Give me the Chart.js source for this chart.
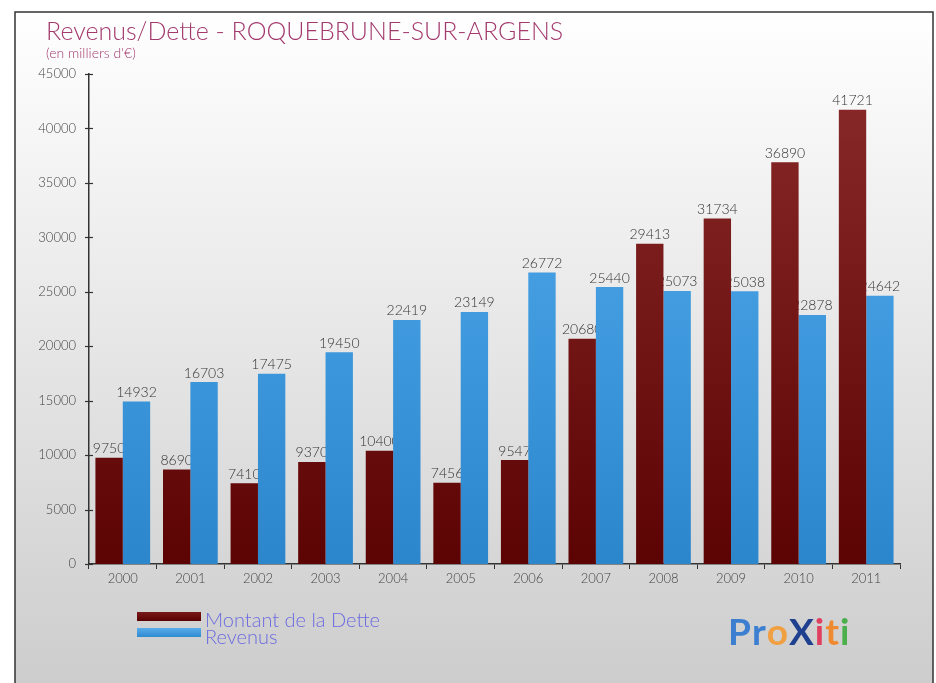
<!DOCTYPE html>
<html>
<head>
<meta charset="utf-8">
<script src="https://cdn.jsdelivr.net/npm/chart.js@4.4.1/dist/chart.umd.min.js"></script>
<style>
  html, body { margin: 0; padding: 0; background: #fff; }
  #wrap { width: 936px; height: 683px; position: relative; }
</style>
</head>
<body>
<div id="wrap"><canvas id="myBarChart" width="936" height="683"></canvas></div>
<script>
// donnees
const annees = ['2000', '2001', '2002', '2003', '2004', '2005', '2006', '2007', '2008', '2009', '2010', '2011'];
const dette = [9750, 8690, 7410, 9370, 10400, 7456, 9547, 20680, 29413, 31734, 36890, 41721];
const revenus = [14932, 16703, 17475, 19450, 22419, 23149, 26772, 25440, 25073, 25038, 22878, 24642];
const ticksY = [0, 5000, 10000, 15000, 20000, 25000, 30000, 35000, 40000, 45000];

const police = 'Lato, "Open Sans", sans-serif';

// fond, cadre, titre, legende et logo
const decor = {
    id: 'decor',
    beforeDraw(chart) {
        const ctx = chart.ctx;
        ctx.save();
        ctx.fillStyle = '#ffffff';
        ctx.fillRect(0, 0, chart.width, chart.height);
        const g = ctx.createLinearGradient(0, 12, 0, 683);
        g.addColorStop(0, '#ffffff');
        g.addColorStop(1, '#cdcdcd');
        ctx.fillStyle = g;
        ctx.fillRect(15, 12, 918, 680);
        ctx.strokeStyle = '#333';
        ctx.lineWidth = 1.5;
        ctx.strokeRect(15, 12, 918, 690);

        ctx.fillStyle = '#a33a6e';
        ctx.textBaseline = 'alphabetic';
        ctx.font = '300 25px ' + police;
        ctx.fillText('Revenus/Dette - ROQUEBRUNE-SUR-ARGENS', 46, 40);
        ctx.font = '300 14px ' + police;
        ctx.fillText("(en milliers d'€)", 46, 58);
        ctx.restore();
    },
    afterDraw(chart) {
        const ctx = chart.ctx;
        ctx.save();
        // y ticks qui traversent l'axe
        const y = chart.scales.y;
        ctx.strokeStyle = '#333';
        ctx.lineWidth = 1.2;
        ticksY.forEach(v => {
            const py = Math.round(y.getPixelForValue(v)) + 0.5;
            ctx.beginPath();
            ctx.moveTo(y.right - 4, py);
            ctx.lineTo(y.right + 4, py);
            ctx.stroke();
        });

        // legende
        const gr = ctx.createLinearGradient(0, 612, 0, 621);
        gr.addColorStop(0, '#7a1a1a');
        gr.addColorStop(1, '#5a0000');
        ctx.fillStyle = gr;
        ctx.fillRect(137, 612, 64, 9);
        const gb = ctx.createLinearGradient(0, 628, 0, 637);
        gb.addColorStop(0, '#59acea');
        gb.addColorStop(1, '#2f8ad0');
        ctx.fillStyle = gb;
        ctx.fillRect(137, 628, 64, 9);
        ctx.fillStyle = '#6b6be0';
        ctx.font = '300 20px ' + police;
        ctx.fillText('Montant de la Dette', 205, 627);
        ctx.fillText('Revenus', 205, 644);

        // logo
        const lettres = [['P', '#3c7fd0'], ['r', '#3c7fd0'], ['o', '#f0a040'], ['X', '#1f3f8f'], ['i', '#e04060'], ['t', '#f08a30'], ['i', '#4bb04b']];
        let x = 728;
        ctx.font = 'bold 37px ' + police;
        lettres.forEach(l => {
            ctx.fillStyle = l[1];
            ctx.fillText(l[0], x, 645);
            x += ctx.measureText(l[0]).width + 1;
        });
        ctx.restore();
    }
};

// etiquettes dessinees avant les barres: les barres voisines les recouvrent
const etiquettes = {
    id: 'etiquettes',
    beforeDatasetsDraw(chart) {
        const ctx = chart.ctx;
        ctx.save();
        ctx.font = '300 14px ' + police;
        ctx.fillStyle = '#333';
        ctx.textAlign = 'center';
        ctx.textBaseline = 'bottom';
        chart.data.datasets.forEach((ds, i) => {
            chart.getDatasetMeta(i).data.forEach((bar, j) => {
                ctx.fillText(String(ds.data[j]), bar.x, bar.y - 2);
            });
        });
        ctx.restore();
    }
};

function degrade(haut, bas) {
    return (c) => {
        const area = c.chart.chartArea;
        if (!area) return bas;
        const g = c.chart.ctx.createLinearGradient(0, area.top, 0, area.bottom);
        g.addColorStop(0, haut);
        g.addColorStop(1, bas);
        return g;
    };
}

const config = {
    type: 'bar',
    data: {
        labels: annees,
        datasets: [{
            label: 'Montant de la Dette',
            data: dette,
            backgroundColor: degrade('#8a2a2a', '#5c0303'),
            borderWidth: 0
        }, {
            label: 'Revenus',
            data: revenus,
            backgroundColor: degrade('#56aef0', '#2b86cc'),
            borderWidth: 0
        }]
    },
    options: {
        responsive: false,
        animation: false,
        events: [],
        layout: { padding: { left: 20, right: 36, top: 74, bottom: 89 } },
        plugins: { legend: { display: false }, tooltip: { enabled: false }, title: { display: false } },
        datasets: { bar: { categoryPercentage: 0.81, barPercentage: 1 } },
        scales: {
            x: {
                grid: { display: true, drawOnChartArea: false, tickLength: 5, color: '#333' },
                border: { color: '#333', width: 1.5 },
                ticks: { color: '#444', font: { family: police, size: 13, weight: '300' }, padding: 2 },
                afterFit(s) { s.height = 30; }
            },
            y: {
                min: 0,
                max: 45000,
                afterBuildTicks(s) { s.ticks = ticksY.map(v => ({ value: v })); },
                grid: { display: false },
                border: { color: '#333', width: 1.5 },
                ticks: {
                    color: '#444',
                    font: { family: police, size: 13, weight: '300' },
                    padding: 5,
                    callback: (v) => String(v)
                },
                afterFit(s) { s.width = 69; }
            }
        }
    },
    plugins: [decor, etiquettes]
};

new Chart(document.getElementById('myBarChart'), config);
</script>
</body>
</html>
